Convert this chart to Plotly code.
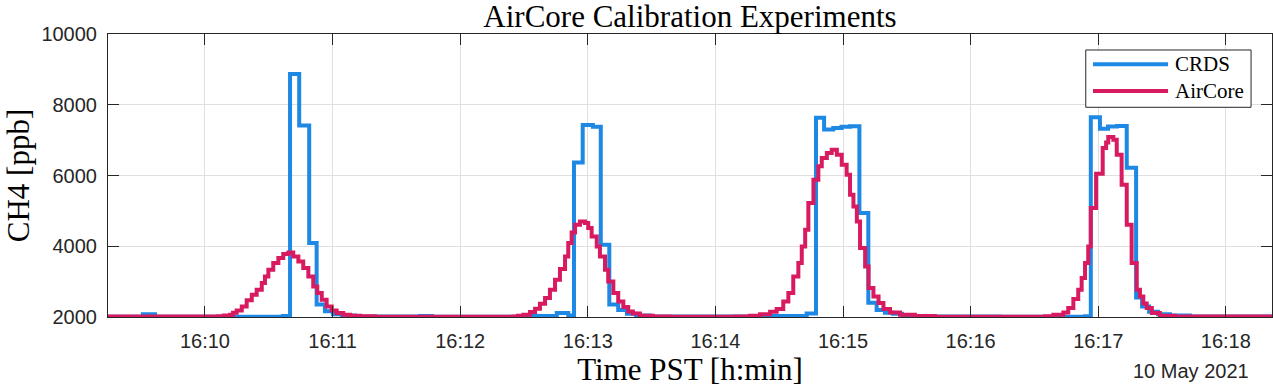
import pandas as pd
import plotly.graph_objects as go

# Time in seconds after 16:09:00 (10 May 2021) and CH4 mixing ratio [ppb]
crds_sec = [14.4, 30.8, 36.5, 96.7, 100.0, 104.3, 109.0, 112.5, 116.4, 120.2, 124.4, 130.5,
            161.1, 166.7, 208.1, 225.4, 230.8, 233.5, 237.6, 242.4, 246.1, 250.1, 254.3,
            258.4, 262.7, 269.2, 321.0, 342.9, 347.3, 351.1, 355.4, 359.3, 363.3, 367.7,
            371.9, 375.8, 379.7, 383.5, 387.7, 393.8, 433.8, 473.8, 476.5, 480.8, 484.6,
            488.8, 493.4, 497.8, 500.6, 503.9, 508.1, 513.7, 523.1, 561.7]
crds_ppb = [2010, 2080, 2010, 2030, 8870, 7410, 4090, 2350, 2160, 2080, 2040, 2015,
            2025, 2010, 2025, 2110, 2040, 6370, 7430, 7380, 4040, 2350, 2200,
            2090, 2040, 2015, 2025, 2100, 7630, 7300, 7345, 7380, 7395, 4940,
            2400, 2200, 2120, 2090, 2040, 2015, 2010, 2020, 7650, 7320, 7385,
            7400, 6220, 2550, 2300, 2150, 2080, 2040, 2015, 2010]

aircore_sec = [14.4, 60.0, 66.1, 68.9, 71.8, 73.2, 74.9, 77.3, 79.6, 82.0, 84.3, 86.7, 88.2,
               89.8, 92.1, 94.5, 96.8, 99.2, 101.5, 103.9, 106.2, 108.6, 110.9, 112.8, 114.9,
               117.2, 119.6, 121.9, 125.0, 128.2, 132.9, 139.9,
               201.1, 205.0, 207.2, 209.7, 212.8, 215.2, 217.5, 219.9, 222.2, 224.6, 226.9,
               229.3, 230.8, 232.4, 234.0, 236.3, 238.7, 240.2, 241.8, 244.2, 245.7, 248.1,
               249.6, 252.0, 254.3, 256.7, 259.0, 261.2, 264.5, 270.6, 278.6,
               302.2, 309.2, 316.3, 321.0, 325.7, 328.8, 331.9, 334.3, 336.6, 339.0, 340.6,
               342.2, 343.7, 346.1, 348.4, 350.0, 352.4, 354.7, 357.1, 359.4, 361.7, 363.3,
               364.9, 366.5, 368.0, 370.4, 372.0, 374.3, 376.7, 379.0, 382.1, 386.8, 393.8,
               403.2,
               447.9, 455.0, 458.9, 463.6, 465.9, 468.3, 470.6, 472.2, 473.8, 475.3, 476.5,
               479.0, 482.1, 483.7, 484.7, 487.1, 488.7, 491.0, 493.4, 495.7, 498.1, 499.6,
               501.2, 502.8, 505.2, 509.0, 516.1, 561.7]
aircore_ppb = [2015, 2012, 2020, 2040, 2065, 2120, 2187, 2300, 2470, 2630, 2772, 2961, 3148,
               3337, 3527, 3668, 3781, 3826, 3713, 3572, 3385, 3148, 2865, 2678, 2489,
               2300, 2187, 2113, 2065, 2037, 2020, 2010,
               2010, 2017, 2035, 2065, 2141, 2235, 2376, 2537, 2772, 3055, 3357,
               3713, 4092, 4392, 4609, 4703, 4657, 4516, 4279, 3996, 3713, 3337,
               3007, 2678, 2441, 2283, 2158, 2100, 2037, 2017, 2010,
               2010, 2015, 2037, 2080, 2150, 2226, 2441, 2678, 3148, 3527, 3996,
               4468, 5223, 5882, 6258, 6495, 6636, 6730, 6589, 6305, 6023, 5457,
               5127, 4703, 3950, 3430, 2819, 2583, 2395, 2226, 2130, 2065, 2030,
               2010,
               2010, 2020, 2065, 2130, 2254, 2509, 2772, 3102, 3527, 3996, 5082,
               6051, 6777, 6936, 7089, 7012, 6588, 5740, 4609, 3527, 2772, 2583,
               2380, 2254, 2113, 2037, 2015, 2010]

series_names = ["CRDS", "AirCore"]

t0 = pd.Timestamp("2021-05-10 16:09:00")
x_range_sec = [14.4, 561.7]
y_range = [2000, 10000]
y_ticks = [2000, 4000, 6000, 8000, 10000]


def to_time(secs):
    return [(t0 + pd.Timedelta(seconds=s)).strftime("%Y-%m-%d %H:%M:%S.%f")[:-3] for s in secs]


COLORS = ["#1E88E5", "#D81B60"]
AX = "#262626"
SERIF = "Liberation Serif, Times New Roman, serif"
SANS = "Liberation Sans, Arial, Helvetica, sans-serif"

fig = go.Figure()
for name, secs, vals, col in zip(series_names, [crds_sec, aircore_sec],
                                 [crds_ppb, aircore_ppb], COLORS):
    fig.add_trace(go.Scatter(x=to_time(secs), y=vals, name=name, mode="lines",
                             showlegend=False,
                             line=dict(color=col, width=4, shape="hv")))

fig.update_layout(
    width=1273, height=388,
    margin=dict(l=108, r=1, t=34, b=71),
    paper_bgcolor="white", plot_bgcolor="white",
    title=dict(text="AirCore Calibration Experiments", x=0.542, xanchor="center",
               y=0.958, yanchor="middle", font=dict(family=SERIF, size=31, color="black")),
    showlegend=False,
)

fig.update_xaxes(
    type="date", range=to_time(x_range_sec),
    tickformat="%H:%M", dtick=60000, tick0="2021-05-10 16:10:00",
    showgrid=True, gridcolor="#dfdfdf", gridwidth=1,
    showline=True, linecolor=AX, linewidth=1, mirror="ticks",
    ticks="inside", ticklen=11, tickcolor=AX, tickwidth=1,
    tickfont=dict(family=SANS, size=20, color=AX), ticklabelstandoff=6,
    zeroline=False, automargin=False,
    title=dict(text="Time PST [h:min]", font=dict(family=SERIF, size=31, color="black"), standoff=6),
)
fig.update_yaxes(
    range=y_range, tickvals=y_ticks, tickformat="d",
    showgrid=True, gridcolor="#dfdfdf", gridwidth=1,
    showline=True, linecolor=AX, linewidth=1, mirror="ticks",
    ticks="inside", ticklen=11, tickcolor=AX, tickwidth=1,
    tickfont=dict(family=SANS, size=20, color=AX), ticklabelstandoff=6,
    zeroline=False, automargin=False,
    title=dict(text="CH4 [ppb]", font=dict(family=SERIF, size=31, color="black"), standoff=2),
)

# Legend box (drawn in paper coordinates to get MATLAB-style long line samples)
fig.add_shape(type="rect", xref="paper", yref="paper", x0=0.840, x1=0.982, y0=0.741, y1=0.9435,
              line=dict(color=AX, width=1), fillcolor="white", layer="above")
for name, col, ly in zip(series_names, COLORS, [0.893, 0.7986]):
    fig.add_shape(type="line", xref="paper", yref="paper", x0=0.8462, x1=0.9107, y0=ly, y1=ly,
                  line=dict(color=col, width=4), layer="above")
    fig.add_annotation(text=name, xref="paper", yref="paper", x=0.9149, y=ly,
                       xanchor="left", yanchor="middle", showarrow=False,
                       font=dict(family=SERIF, size=21, color="black"))

fig.add_annotation(text="10 May 2021", xref="paper", yref="paper", x=0.982, y=-0.19,
                   xanchor="right", yanchor="middle", showarrow=False,
                   font=dict(family=SANS, size=20, color=AX))

fig.write_html("out.html", config={"displayModeBar": False},
               post_script="document.body.style.margin='0px';")
